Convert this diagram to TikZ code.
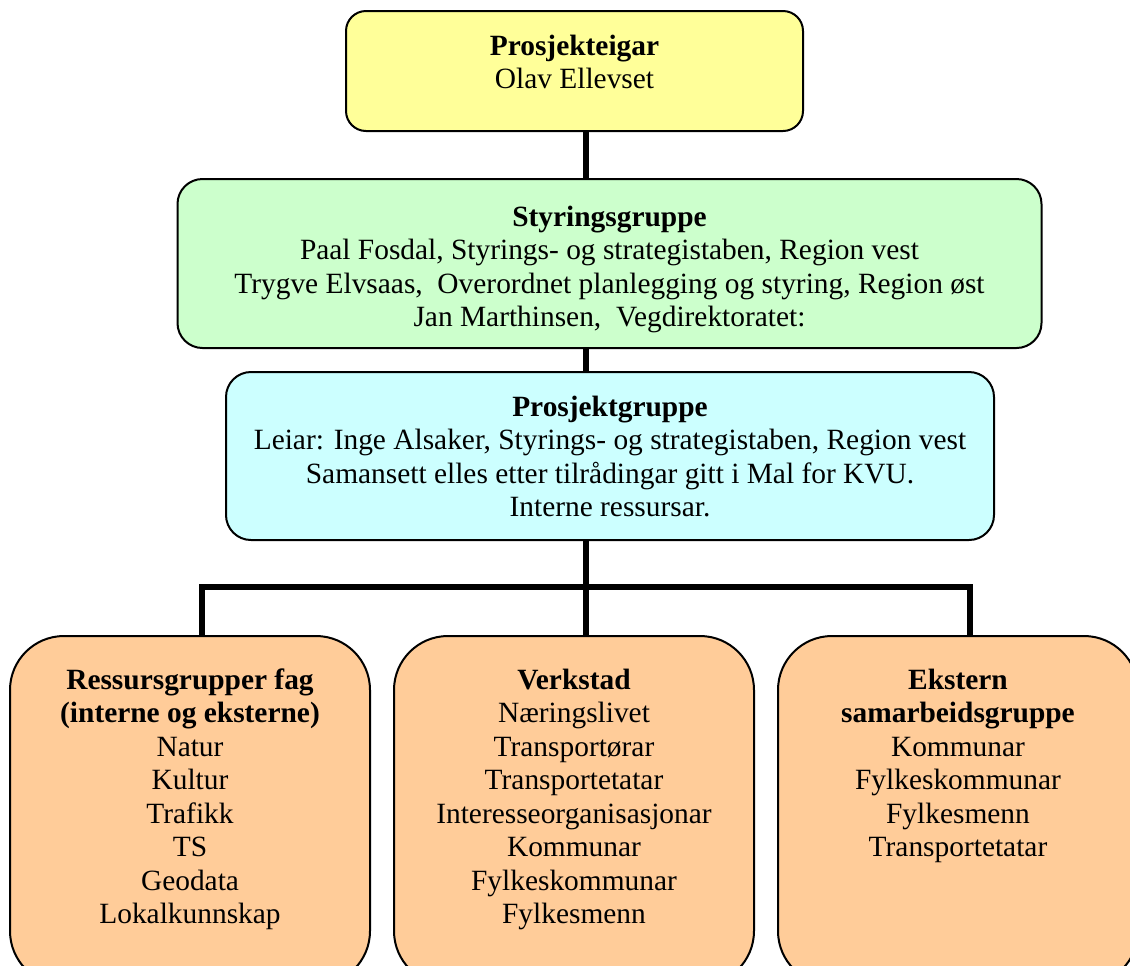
\documentclass[tikz,border=0pt]{standalone}
\usepackage{fontspec}
\setmainfont{Liberation Serif}
\usepackage{tikz}
\usetikzlibrary{shapes,arrows}
\definecolor{ownerfill}{HTML}{FFFF99}
\definecolor{steerfill}{HTML}{CCFFCC}
\definecolor{projfill}{HTML}{CCFFFF}
\definecolor{groupfill}{HTML}{FFCC99}
\tikzstyle{box} = [draw, rectangle, line width=1pt, inner sep=0pt, align=flush center, anchor=north]
\tikzstyle{owner} = [box, fill=ownerfill, rounded corners=10pt, text width=228.5pt, text height=22pt, text depth=38pt]
\tikzstyle{steer} = [box, fill=steerfill, rounded corners=12.5pt, text width=432pt, text height=23.5pt, text depth=61pt]
\tikzstyle{proj} = [box, fill=projfill, rounded corners=12.5pt, text width=384pt, text height=22pt, text depth=62pt]
\tikzstyle{group} = [box, fill=groupfill, rounded corners=27pt, text width=180pt, text height=26.5pt, text depth=148pt]
\tikzstyle{line} = [draw, line width=3pt]

\begin{document}
\begin{tikzpicture}[x=0.5pt, y=-0.5pt, font=\fontsize{14.7}{16.75}\selectfont]
      \useasboundingbox (0,0) rectangle (1130,965);
      \clip (0,0) rectangle (1130,965);
      % place nodes
      \node [owner] (eigar) at (574.5,10) {\textbf{Prosjekteigar}\\Olav Ellevset};
      \node [steer] (styr) at (609.5,178) {\textbf{Styringsgruppe}\\Paal Fosdal, Styrings- og strategistaben, Region vest\\Trygve Elvsaas,\ \ Overordnet planlegging og styring, Region øst\\Jan Marthinsen,\ \ Vegdirektoratet:};
      \node [proj] (prosj) at (610,371) {\textbf{Prosjektgruppe}\\Leiar: Inge Alsaker, Styrings- og strategistaben, Region vest\\Samansett elles etter tilrådingar gitt i Mal for KVU.\\Interne ressursar.};
      \node [group] (fag) at (190,635) {\textbf{Ressursgrupper fag}\\\textbf{(interne og eksterne)}\\Natur\\Kultur\\Trafikk\\TS\\Geodata\\Lokalkunnskap};
      \node [group] (verk) at (574,635) {\textbf{Verkstad}\\Næringslivet\\Transportørar\\Transportetatar\\Interesseorganisasjonar\\Kommunar\\Fylkeskommunar\\Fylkesmenn};
      \node [group] (ekstern) at (958,635) {\textbf{Ekstern}\\\textbf{samarbeidsgruppe}\\Kommunar\\Fylkeskommunar\\Fylkesmenn\\Transportetatar};

      \coordinate (spine) at (586,0);
      \coordinate (fork) at (586,587);
      \coordinate (busL) at (202,587);
      \coordinate (busR) at (970,587);

      % draw edges
      \path [line] (eigar.south -| spine) -- (styr.north -| spine);
      \path [line] (styr.south -| spine) -- (prosj.north -| spine);
      \path [line] (prosj.south -| spine) -- (fork);
      \path [line] (fag.north -| busL) -- (busL) -- (busR) -- (ekstern.north -| busR);
      \path [line] (fork) -- (verk.north -| fork);
\end{tikzpicture}
\end{document}
